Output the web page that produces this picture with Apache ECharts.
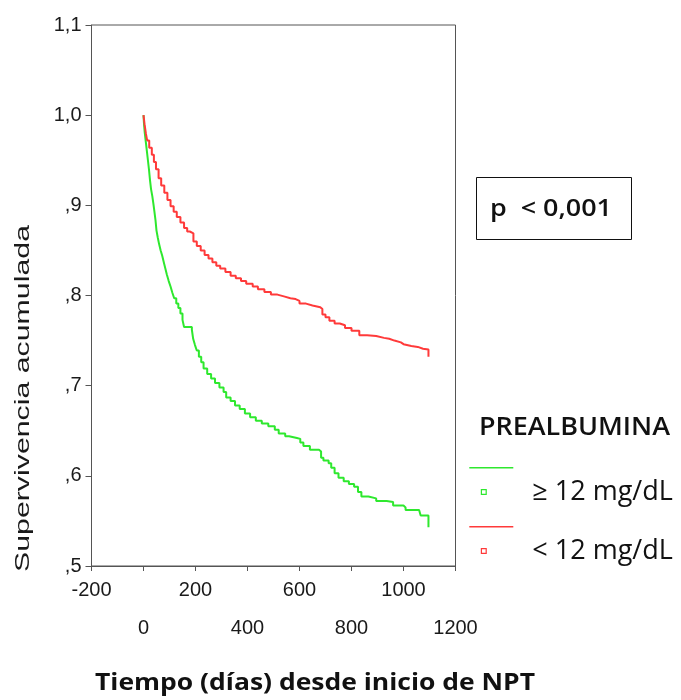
<!DOCTYPE html>
<html><head><meta charset="utf-8">
<script src="https://cdn.jsdelivr.net/npm/echarts@6/dist/echarts.min.js"></script>
<style>html,body{margin:0;padding:0;background:#fff}#c{width:681px;height:700px}</style>
</head><body><div id="c"></div>
<script>
// ---- data ----
const xTickLabels = ['-200','0','200','400','600','800','1000','1200'];
const yTickLabels = [',5',',6',',7',',8',',9','1,0','1,1'];
const seriesNames = ['\u2265 12 mg/dL','< 12 mg/dL'];
const seriesColors = ['#2ee82e','#ff3a3a'];

// >= 12 mg/dL (green)
const greenDays = [0,2,5,9,13,17,21,25,29,34,38,42,46,50,55,60,66,72,78,84,90,97,104,111,118,126,134,142,150,156,186,191,198,205,213,222,231,245,260,275,292,308,318,335,352,370,390,410,432,455,480,505,520,545,560,590,603,615,640,675,683,692,712,722,735,750,770,790,810,825,838,865,895,935,960,1000,1008,1060,1066,1096,1096];
const greenSurv = [1.0,0.99,0.98,0.97,0.96,0.95,0.94,0.928,0.918,0.91,0.902,0.893,0.884,0.872,0.864,0.857,0.85,0.844,0.837,0.83,0.823,0.816,0.81,0.803,0.797,0.791,0.786,0.78,0.773,0.765,0.762,0.752,0.745,0.739,0.732,0.726,0.719,0.713,0.708,0.703,0.698,0.693,0.687,0.683,0.678,0.674,0.669,0.665,0.661,0.658,0.655,0.651,0.647,0.644,0.642,0.641,0.637,0.633,0.629,0.627,0.62,0.617,0.614,0.609,0.603,0.598,0.594,0.591,0.588,0.582,0.577,0.575,0.572,0.571,0.567,0.565,0.562,0.561,0.556,0.556,0.543];

// < 12 mg/dL (red)
const redDays = [0,4,9,14,22,32,40,48,58,68,80,92,104,116,128,142,156,168,178,192,205,220,235,250,265,280,295,315,335,355,375,395,420,440,465,490,515,540,565,585,600,625,650,680,688,700,715,735,755,775,800,830,860,895,925,945,965,990,1000,1030,1055,1075,1096,1096];
const redSurv = [1.0,0.99,0.98,0.972,0.964,0.956,0.948,0.94,0.93,0.922,0.914,0.906,0.899,0.893,0.887,0.881,0.875,0.871,0.869,0.86,0.855,0.85,0.845,0.841,0.837,0.833,0.83,0.826,0.822,0.819,0.816,0.813,0.81,0.807,0.804,0.801,0.799,0.797,0.796,0.794,0.791,0.789,0.787,0.785,0.779,0.776,0.772,0.769,0.767,0.764,0.761,0.756,0.755,0.753,0.752,0.75,0.748,0.746,0.744,0.743,0.741,0.74,0.74,0.732];

const zip = (a, b) => a.map((d, i) => [d, b[i]]);

const chart = echarts.init(document.getElementById('c'), null, {renderer: 'canvas'});

// text measuring, used to stretch texts to the widths seen in the reference
const ctx = document.createElement('canvas').getContext('2d');
const fitScale = (text, font, target) => { ctx.font = font; return target / ctx.measureText(text).width; };

const yTitle = 'Supervivencia acumulada';
const yTitleFont = '21px "Liberation Sans"';
const xTitle = 'Tiempo (días) desde inicio de NPT';
const xTitleFont = 'bold 23px "Open Sans"';
const pText = 'p  < 0,001';
const pFont = '600 24px "Open Sans"';
const legTitle = 'PREALBUMINA';
const legTitleFont = '600 25px "Open Sans"';

// legend icon: line on top, small hollow square below (tiny invisible corner keeps the square vertically centred)
const legendIcon = 'path://M0 0H44V1.6H0Z M11.5 22H17.5V28H11.5Z M12.7 23.2V26.8H16.3V23.2Z M0 49.98H0.02V50H0Z';

chart.setOption({
  animation: false,
  backgroundColor: '#fff',
  grid: {left: 91.5, right: 225.5, top: 25, bottom: 134, show: true, borderColor: '#555', borderWidth: 1},
  xAxis: {
    type: 'value', min: -200, max: 1200, interval: 200,
    axisLine: {show: true, onZero: false, lineStyle: {color: '#555', width: 1}},
    axisTick: {show: true, length: 5, lineStyle: {color: '#555'}},
    splitLine: {show: false},
    axisLabel: {
      margin: 5, fontSize: 20, lineHeight: 38, color: '#1a1a1a', fontFamily: 'Liberation Sans',
      formatter: (v) => {
        const i = Math.round((v + 200) / 200);
        const t = xTickLabels[i];
        return i % 2 === 0 ? t : '\n' + t;
      }
    }
  },
  yAxis: {
    type: 'value', min: 0.5, max: 1.1, interval: 0.1,
    axisLine: {show: true, onZero: false, lineStyle: {color: '#555', width: 1}},
    axisTick: {show: true, length: 6, lineStyle: {color: '#555'}},
    splitLine: {show: false},
    axisLabel: {
      margin: 10, fontSize: 20, color: '#1a1a1a', fontFamily: 'Liberation Sans',
      formatter: (v) => yTickLabels[Math.round((v - 0.5) / 0.1)]
    }
  },
  legend: {
    orient: 'vertical', left: 469.3, top: 467, padding: 0,
    itemWidth: 44, itemHeight: 50, itemGap: 9,
    icon: legendIcon,
    selectedMode: false,
    textStyle: {fontFamily: 'Open Sans', fontSize: 27, color: '#111', padding: [0, 0, 0, 14]},
    data: seriesNames
  },
  graphic: [
    {type: 'text', x: 23, y: 398.5, rotation: Math.PI / 2, scaleX: fitScale(yTitle, yTitleFont, 347), scaleY: 1,
     style: {text: yTitle, font: yTitleFont, fill: '#1a1a1a', align: 'center', verticalAlign: 'middle'}},
    {type: 'text', x: 315, y: 683, scaleX: fitScale(xTitle, xTitleFont, 440), scaleY: 1,
     style: {text: xTitle, font: xTitleFont, fill: '#111', align: 'center', verticalAlign: 'middle'}},
    {type: 'rect', shape: {x: 476.5, y: 177.5, width: 155, height: 62},
     style: {fill: 'none', stroke: '#111', lineWidth: 1}},
    {type: 'text', x: 490, y: 209, scaleX: fitScale(pText, pFont, 122), scaleY: 1,
     style: {text: pText, font: pFont, fill: '#111', verticalAlign: 'middle'}},
    {type: 'text', x: 479, y: 428, scaleX: fitScale(legTitle, legTitleFont, 191), scaleY: 1,
     style: {text: legTitle, font: legTitleFont, fill: '#111', verticalAlign: 'middle'}}
  ],
  series: [
    {name: seriesNames[0], type: 'line', step: 'end', showSymbol: false, symbol: 'none',
     data: zip(greenDays, greenSurv), color: seriesColors[0], lineStyle: {width: 2, color: seriesColors[0]}},
    {name: seriesNames[1], type: 'line', step: 'end', showSymbol: false, symbol: 'none',
     data: zip(redDays, redSurv), color: seriesColors[1], lineStyle: {width: 2, color: seriesColors[1]}}
  ]
});
</script></body></html>
